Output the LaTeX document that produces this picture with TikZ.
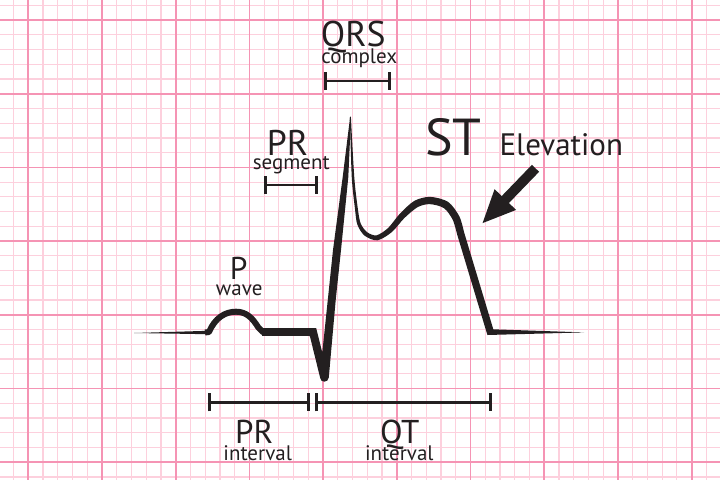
\documentclass[tikz,border=0pt]{standalone}
\usepackage{fontspec}
\setmainfont{PT Sans}
\usetikzlibrary{arrows.meta}
\definecolor{ink}{HTML}{231F20}
\definecolor{gmajor}{HTML}{F594B4}
\definecolor{gminor}{HTML}{FDD0DD}
\begin{document}
\begin{tikzpicture}[x=1pt,y=-1pt,
  minorline/.style={gminor, line width=1.2pt},
  majorline/.style={gmajor, line width=1.8pt},
  lbl/.style={text=ink, inner sep=0pt, anchor=base},
  big/.style={font=\fontsize{35.7}{36}\selectfont, text depth=0pt},
  small/.style={font=\fontsize{21}{21}\selectfont, text height=12pt},
  bracket/.style={draw=ink, line width=2.7pt, {Bar[width=18pt,line width=3pt]}-{Bar[width=18pt,line width=3pt]}},
  trace/.style={ink}]
\useasboundingbox (0,0) rectangle (720,480);
\fill[white] (0,0) rectangle (720,480);
% grid
\foreach \i in {0,...,49} \draw[minorline] ({-1.18+14.74*\i},0) -- ++(0,480);
\foreach \i in {0,...,32} \draw[minorline] (0,{5.26+14.74*\i}) -- ++(720,0);
\foreach \i in {0,...,9} \draw[majorline] ({28.3+73.7*\i},0) -- ++(0,480);
\foreach \i in {0,...,6} \draw[majorline] (0,{20+73.7*\i}) -- ++(720,0);
% trace
\fill[trace] (134,333) -- (208,330.8) -- (208,334.2) -- cycle;
\draw[draw=ink, line width=6pt, line join=round] (205,332.5) -- (209,332) .. controls (215,318) and (225,311.7) .. (236,311.7) .. controls (247,311.7) and (253,319) .. (258,327) -- (263,332.2) -- (270,332.2);
\draw[draw=ink, line width=8pt] (262,332.2) -- (313,332.2);
\fill[trace] (311,328.2) -- (316.2,328.2) -- (322.3,352.5) -- (333,250) -- (342.7,177) -- (350.2,116.3) -- (351,118) -- (348.3,177) -- (341,250) -- (335.7,300) -- (328.8,377.4) .. controls (328.5,382.8) and (320.6,383.2) .. (320.2,378) -- (309.9,336.2) -- (309,336.2) -- cycle;
\fill[trace] plot[smooth, tension=0.5] coordinates {(349.9,117) (351.75,177.1) (354.9,208.2) (357.36,224.61) (364.7,235.7) (377.4,240.3) (391.8,232.1) (404.2,218.2) (417.7,207.1) (429.9,204.15) (443.9,208.1) (452.7,219.7) (457.3,235)}
  -- (487.4,335) -- (584,332.4) -- (493.3,329.3)
  -- plot[smooth, tension=0.5] coordinates {(464.0,232) (459.3,216.3) (448.1,201.9) (430.1,196.85) (414.3,200.9) (399.8,213.8) (388.2,227.9) (376.6,235.3) (367.3,232.3) (360.64,223.39) (357.7,207.8) (354.25,176.9) (350.9,117)} -- cycle;
% labels
\node[lbl, big] (qrs) at (353.3,46.7) {QRS};
\node[lbl, small] (complex) at (359.2,63.3) {complex};
\node[lbl, big] (prs) at (287.5,155) {PR};
\node[lbl, small] (segment) at (291.3,169.3) {segment};
\node[lbl, font=\fontsize{31.5}{32}\selectfont, text depth=0pt] (p) at (238.7,279) {P};
\node[lbl, small] (wave) at (239.2,295) {wave};
\node[lbl, font=\fontsize{52}{52}\selectfont] (st) at (453.3,155) {ST};
\node[lbl, font=\fontsize{31}{31}\selectfont] (elev) at (561.3,155) {Elevation};
\node[lbl, font=\fontsize{33}{33}\selectfont, text depth=0pt] (pri) at (254.2,443.3) {PR};
\node[lbl, small] (print) at (257.7,460) {interval};
\node[lbl, font=\fontsize{33}{33}\selectfont, text depth=0pt] (qt) at (399.7,443.3) {QT};
\node[lbl, small] (qtint) at (399.3,460) {interval};
% brackets
\coordinate (qrsL) at (324,81); \coordinate (qrsR) at (390.7,81);
\coordinate (segL) at (264,185); \coordinate (segR) at (318.3,185);
\coordinate (prL) at (207.7,402.3); \coordinate (prR) at (310,402.3);
\coordinate (qtL) at (315,402.3); \coordinate (qtR) at (491.7,402.3);
\draw[bracket] (qrsL) -- (qrsR);
\draw[bracket] (segL) -- (segR);
\draw[bracket] (prL) -- (prR);
\draw[bracket] (qtL) -- (qtR);
% arrow
\coordinate (arrS) at (535.5,168.3); \coordinate (arrE) at (481.7,224);
\draw[draw=ink, line width=10pt, -{Triangle[length=34pt,width=27pt]}] (arrS) -- (arrE);
\end{tikzpicture}
\end{document}
